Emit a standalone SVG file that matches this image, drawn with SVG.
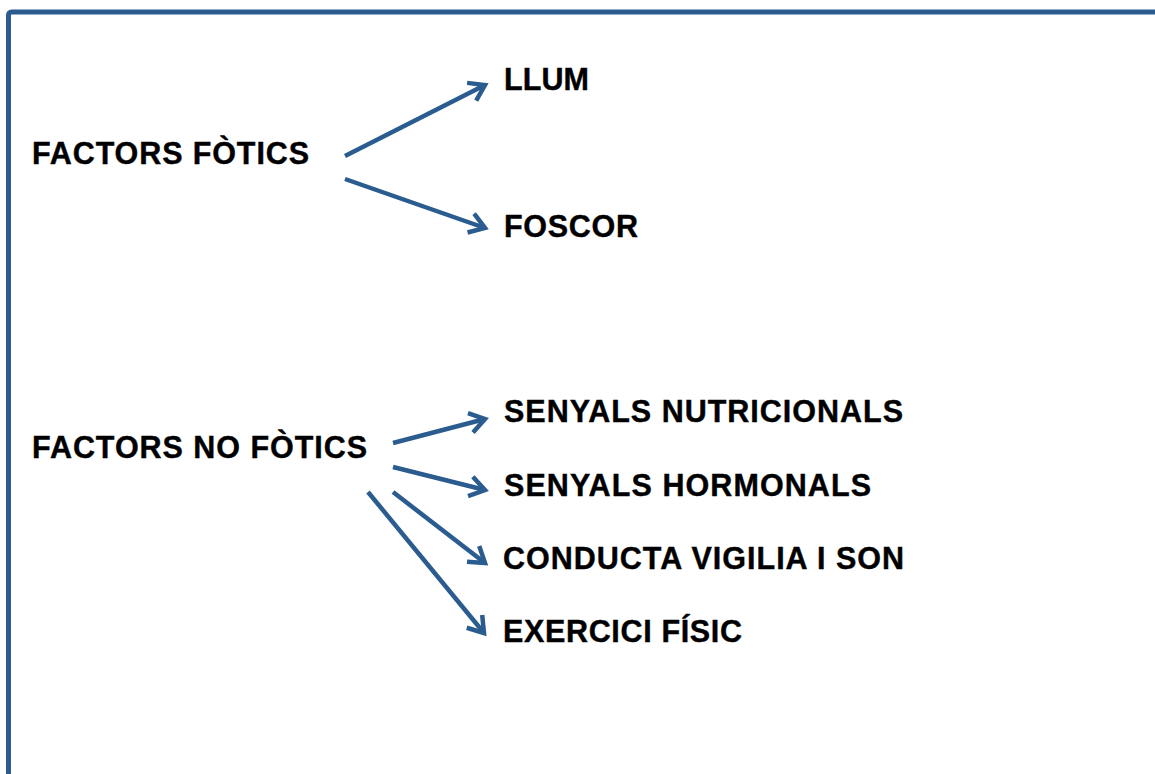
<svg xmlns="http://www.w3.org/2000/svg" width="1155" height="774" viewBox="0 0 1155 774">
<style>
.t{font-family:"Liberation Sans",Arial,sans-serif;font-weight:bold;font-size:30.5px;fill:#000;stroke:#000;stroke-width:0.4}
.c{stroke:#2b5c90;stroke-width:4.5;fill:none}
</style>
<defs>
<marker id="ah" markerUnits="userSpaceOnUse" markerWidth="40" markerHeight="40" refX="0" refY="0" viewBox="-20 -20 40 40" orient="auto" overflow="visible">
<path d="M -15 -10 L 0 0 L -15 10" fill="none" stroke="#2b5c90" stroke-width="4.5" stroke-linejoin="miter"/>
</marker>
</defs>
<rect width="1155" height="774" fill="#fff"/>
<rect x="8.5" y="12" width="1160" height="790" rx="3" fill="none" stroke="#2b5c90" stroke-width="5"/>
<g id="connectors">
<line class="c" x1="345" y1="156" x2="485" y2="85" marker-end="url(#ah)"/>
<line class="c" x1="345" y1="179" x2="485" y2="228" marker-end="url(#ah)"/>
<line class="c" x1="393" y1="443" x2="485" y2="419" marker-end="url(#ah)"/>
<line class="c" x1="393" y1="467" x2="485" y2="490" marker-end="url(#ah)"/>
<line class="c" x1="393" y1="492" x2="485" y2="563" marker-end="url(#ah)"/>
<line class="c" x1="368" y1="492" x2="484" y2="633" marker-end="url(#ah)"/>
</g>
<g id="factors-fotics"><text class="t" x="32" y="164" textLength="277" lengthAdjust="spacing">FACTORS FÒTICS</text></g>
<g id="llum"><text class="t" x="504" y="90" textLength="85" lengthAdjust="spacing">LLUM</text></g>
<g id="foscor"><text class="t" x="504" y="237" textLength="134" lengthAdjust="spacing">FOSCOR</text></g>
<g id="factors-no-fotics"><text class="t" x="32" y="458" textLength="335" lengthAdjust="spacing">FACTORS NO FÒTICS</text></g>
<g id="senyals-nutricionals"><text class="t" x="504" y="422" textLength="399" lengthAdjust="spacing">SENYALS NUTRICIONALS</text></g>
<g id="senyals-hormonals"><text class="t" x="504" y="496" textLength="367" lengthAdjust="spacing">SENYALS HORMONALS</text></g>
<g id="conducta"><text class="t" x="503" y="569" textLength="401" lengthAdjust="spacing">CONDUCTA VIGILIA I SON</text></g>
<g id="exercici"><text class="t" x="503" y="642" textLength="239" lengthAdjust="spacing">EXERCICI FÍSIC</text></g>
</svg>
